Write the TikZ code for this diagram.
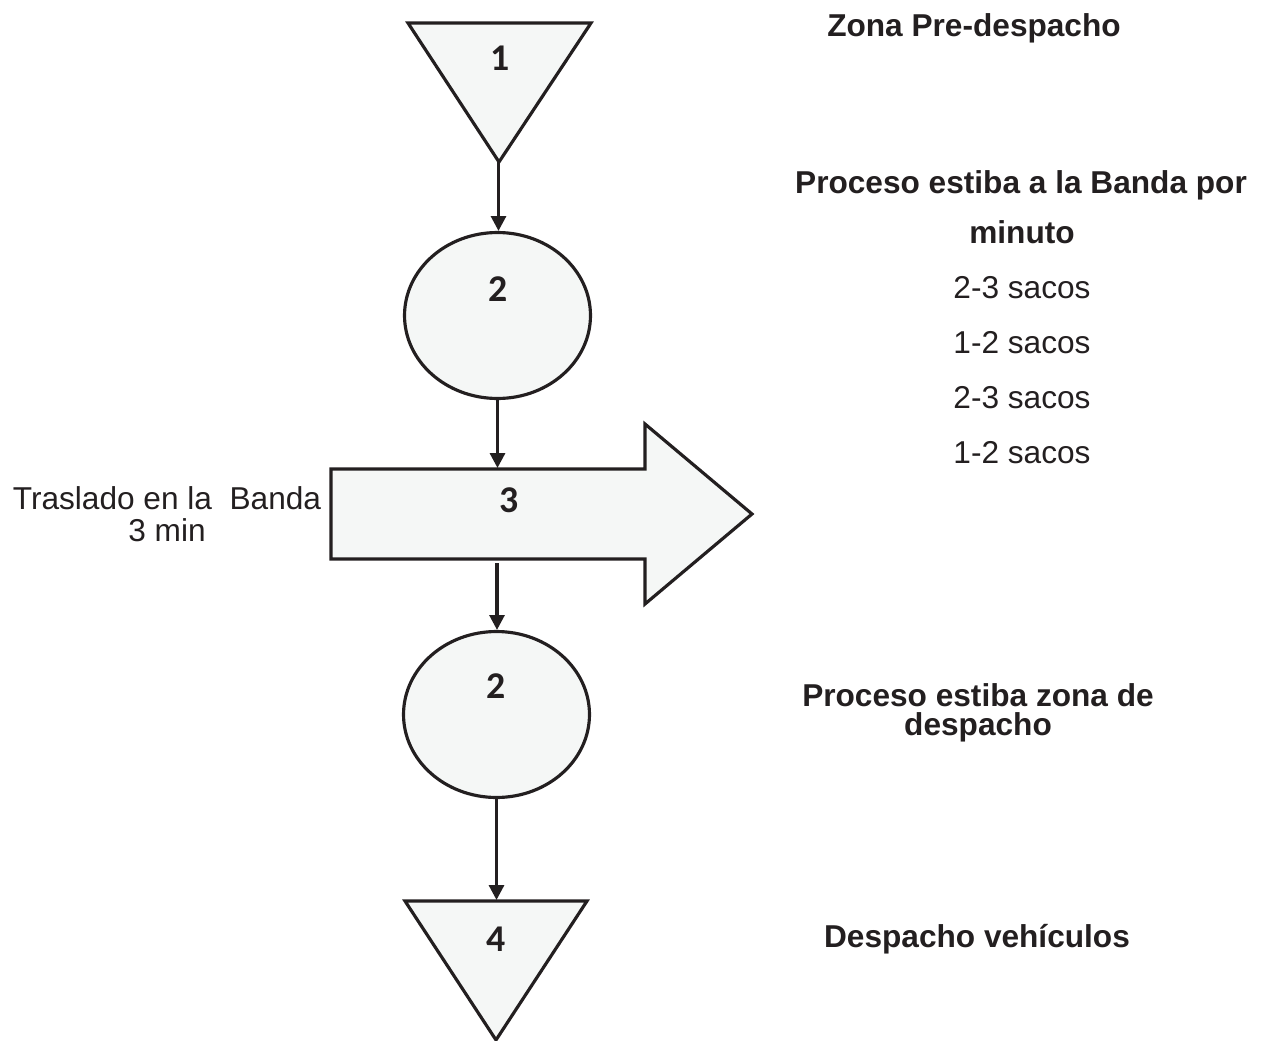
\documentclass[tikz,border=0pt]{standalone}
\usepackage{fontspec}
\setmainfont{Liberation Sans}
\newfontfamily\digitfont{Carlito}
\usetikzlibrary{arrows.meta,shapes.geometric}
\definecolor{inkdark}{RGB}{35,31,32}
\definecolor{shapefill}{RGB}{245,247,246}

\begin{document}
\begin{tikzpicture}[x=0.02cm, y=-0.02cm,
  shapebox/.style={draw=inkdark, fill=shapefill, line width=1.8pt},
  flow/.style={draw=inkdark, line width=1.8pt, -{Triangle[length=8.5pt,width=8.5pt]}},
  stepnum/.style={font=\digitfont\bfseries\fontsize{21.5}{24}\selectfont, text=inkdark},
  note/.style={font=\fontsize{18}{20}\selectfont, text=inkdark},
  notebold/.style={text=inkdark, font=\bfseries\fontsize{18}{20}\selectfont}]
  \useasboundingbox (0,0) rectangle (1271,1041);

  % Draw storage triangles
  \draw[shapebox] (408,23) -- (591,23) -- (499,162) -- cycle;
  \coordinate (t1tip) at (498.5,162);
  \draw[shapebox] (405,901) -- (587,901) -- (496,1040) -- cycle;
  \coordinate (t4top) at (496.5,900);

  % Draw operation ellipses
  \node[shapebox, ellipse, inner sep=0pt, minimum width=3.72cm, minimum height=3.32cm] (e1) at (497.5,315.5) {};
  \node[shapebox, ellipse, inner sep=0pt, minimum width=3.72cm, minimum height=3.32cm] (e2) at (496.5,714.5) {};

  % Draw transport arrow
  \draw[shapebox] (331,469) -- (645,469) -- (645,424) -- (752,514)
    -- (645,604) -- (645,559) -- (331,559) -- cycle;
  \coordinate (b3top) at (497.5,468);
  \coordinate (b3bot) at (497,563);

  % Step numbers
  \node[stepnum] (n1) at (500,58) {1};
  \node[stepnum] (n2) at (498,289) {2};
  \node[stepnum] (n3) at (509,500) {3};
  \node[stepnum] (n5) at (496,686) {2};
  \node[stepnum] (n4) at (496,939) {4};

  % Draw flow connectors
  \draw[flow] (t1tip) -- (t1tip |- e1.north);
  \draw[flow] (e1.south) -- (b3top);
  \draw[flow] (b3bot) -- (b3bot |- e2.north);
  \draw[flow] (e2.south) -- (t4top);

  % Side notes
  \node[notebold, anchor=base] (zone) at (974,36) {Zona Pre-despacho};
  \node[notebold, anchor=base] (band) at (1021,193) {Proceso estiba a la Banda por};
  \node[notebold, anchor=base] (minute) at (1022,243) {minuto};
  \foreach \y/\r [count=\i] in {298/2-3, 353/1-2, 408/2-3, 463/1-2} {
    \node[note, anchor=base] (rate\i) at (1022,\y) {\r\ sacos};
  }
  \node[note, align=center, anchor=base, font=\fontsize{18}{18.1}\selectfont] (move) at (167,541) {Traslado en la\ \ Banda\\3 min};
  \node[notebold, align=center, anchor=base, font=\bfseries\fontsize{18}{16.5}\selectfont] (dock) at (978,735) {Proceso estiba zona de\\despacho};
  \node[notebold, anchor=base] (ship) at (977,947) {Despacho vehículos};
\end{tikzpicture}
\end{document}
